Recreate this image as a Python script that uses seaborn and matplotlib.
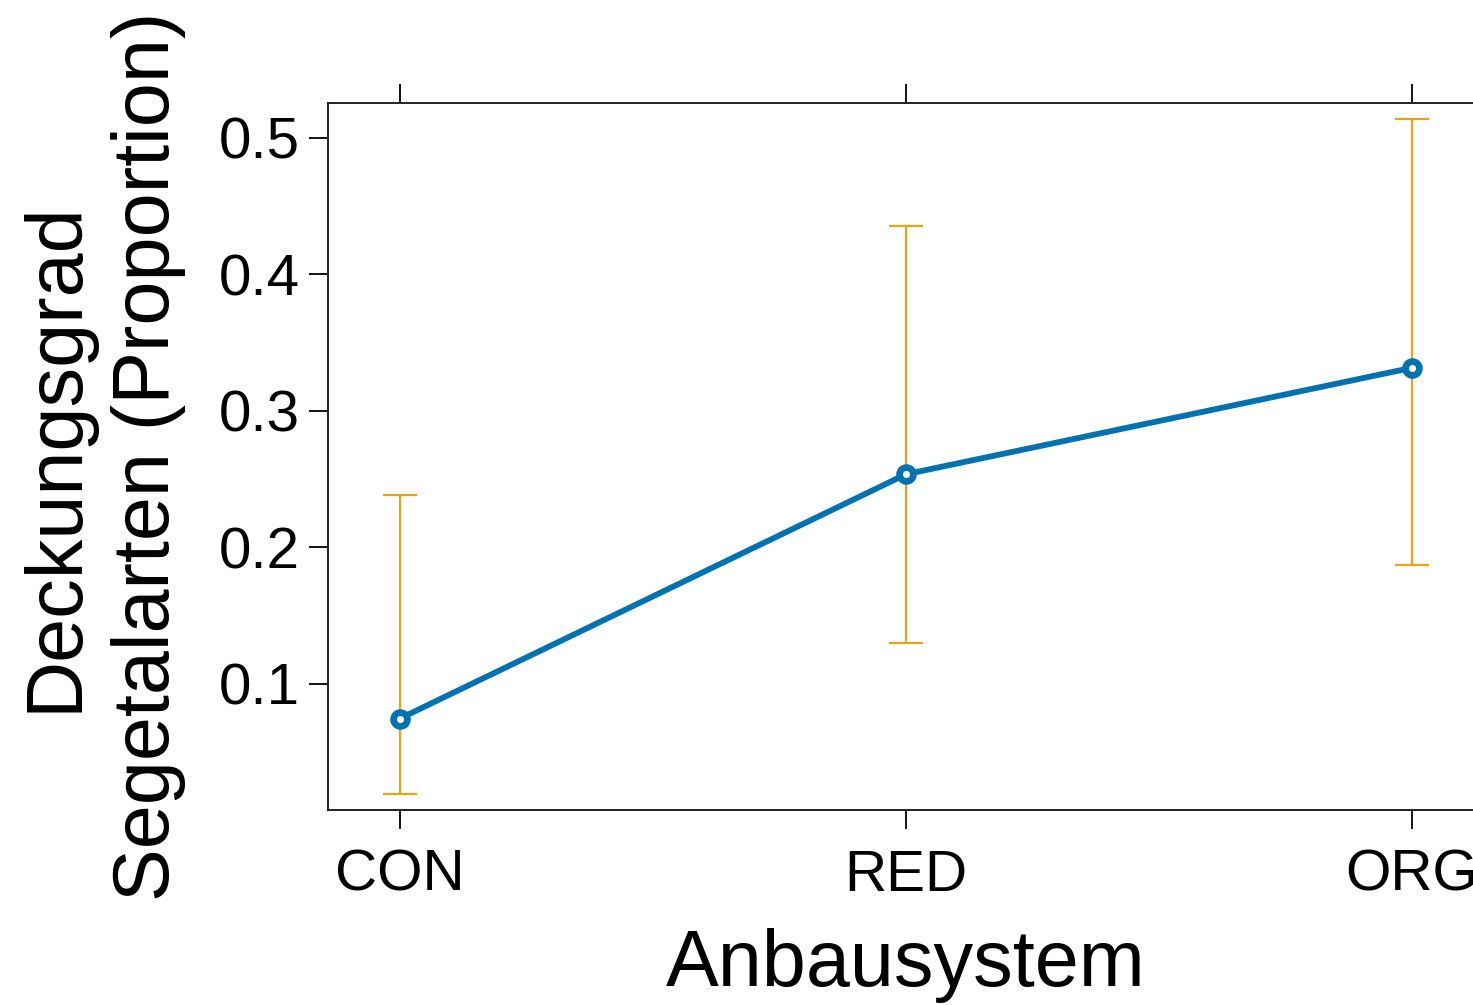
import matplotlib
matplotlib.use("Agg")
import matplotlib.pyplot as plt
import seaborn as sns
import pandas as pd
import numpy as np

categories = ["CON", "RED", "ORG"]
means = [0.0745, 0.2535, 0.3315]
lower = [0.0195, 0.1300, 0.1870]
upper = [0.2385, 0.4355, 0.5135]
yticks = [0.1, 0.2, 0.3, 0.4, 0.5]

sns.set_theme(style="white")
plt.rcParams['font.family'] = ['Liberation Sans', 'DejaVu Sans']
plt.rcParams['text.color'] = 'black'
plt.rcParams['axes.labelcolor'] = 'black'

df = pd.DataFrame({"system": categories, "mean": means, "lo": lower, "hi": upper})
df["pos"] = np.arange(len(categories))

fig = plt.figure(figsize=(14.73, 10.05), dpi=100)
ax = fig.add_axes([328/1473, 195/1005, (1484-328)/1473, 707/1005])

yerr = np.vstack([df["mean"] - df["lo"], df["hi"] - df["mean"]])
ax.errorbar(df["pos"], df["mean"], yerr=yerr, fmt="none", ecolor="#E8A317",
            elinewidth=1.6, capsize=12, capthick=1.6, zorder=2)
sns.lineplot(data=df, x="pos", y="mean", ax=ax, color="#0072B2", linewidth=4.2,
             marker="o", markersize=10, markerfacecolor="white",
             markeredgecolor="#0072B2", markeredgewidth=4.8, zorder=3)

ax.set_xlim(-0.142, 2.142)
ax.set_ylim(0.0075, 0.5255)
ax.set_xticks(df["pos"])
ax.set_xticklabels(categories)
ax.set_yticks(yticks)
ax.set_yticklabels([f"{v:.1f}" for v in yticks])
ax.tick_params(axis="x", which="both", direction="out", length=14, width=1.3,
               top=True, bottom=True, labelsize=42, pad=14, colors="black")
ax.tick_params(axis="y", direction="out", length=14, width=1.3, left=True,
               labelsize=42, pad=6, colors="black")
for s in ax.spines.values():
    s.set_linewidth(1.4)
    s.set_color("#222222")
ax.set_xlabel("Anbausystem", fontsize=57, labelpad=18, color="black")
ax.set_ylabel("Deckungsgrad\nSegetalarten (Proportion)", fontsize=57, labelpad=24,
              linespacing=1.3, color="black")

fig.savefig("out.png", dpi=100)
